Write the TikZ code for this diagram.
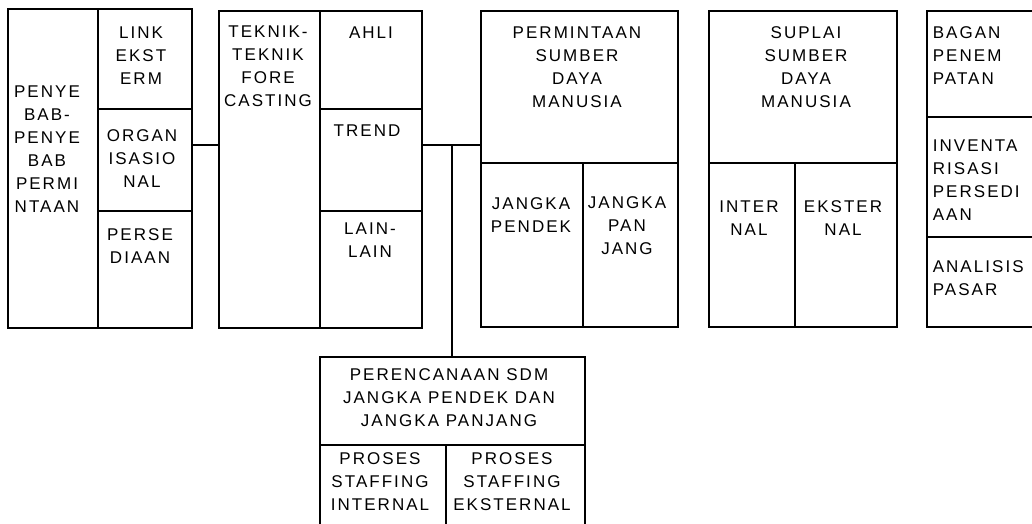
\documentclass[tikz,border=0pt]{standalone}
\usepackage{fontspec}
\setmainfont{Liberation Sans}[LetterSpace=12]
\begin{document}
\begin{tikzpicture}[x=1pt,y=-1pt,line width=1.6pt,
	cell/.style 2 args={draw,rectangle,inner sep=0pt,outer sep=0pt,minimum width=#1,minimum height=#2},
	txt/.style={inner sep=0pt,align=center,font=\fontsize{17}{23}\selectfont},
	ltxt/.style={txt,align=left,anchor=west}]
	\useasboundingbox (0,0) rectangle (1032,524);
	\clip (0,0) rectangle (1032,524);
	% penyebab permintaan
	\node[cell={90}{319}] (cause) at (53,168.5) {};
	\node[cell={94}{100}] (link) at (145,59) {};
	\node[cell={94}{102}] (org) at (145,160) {};
	\node[cell={94}{117}] (stock) at (145,269.5) {};
	\node[txt] (causet) at (47,149) {PENYE\\BAB-\\PENYE\\BAB\\PERMI\\NTAAN};
	\node[txt] (linkt) at (141,56) {LINK\\EKST\\ERM};
	\node[txt] (orgt) at (142,159) {ORGAN\\ISASIO\\NAL};
	\node[txt] (stockt) at (140,246) {PERSE\\DIAAN};
	% teknik forecasting
	\node[cell={101}{317}] (tech) at (269.5,169.5) {};
	\node[cell={102}{98}] (expert) at (371,60) {};
	\node[cell={102}{102}] (trend) at (371,160) {};
	\node[cell={102}{117}] (other) at (371,269.5) {};
	\node[txt] (techt) at (268,66) {TEKNIK-\\TEKNIK\\FORE\\CASTING};
	\node[txt] (expertt) at (371,33) {AHLI};
	\node[txt] (trendt) at (367,131) {TREND};
	\node[txt] (othert) at (370,240) {LAIN-\\LAIN};
	% permintaan sdm
	\node[cell={197}{152}] (demand) at (579.5,87) {};
	\node[cell={102}{164}] (short) at (532,245) {};
	\node[cell={95}{164}] (long) at (630.5,245) {};
	\node[txt] (demandt) at (577,67) {PERMINTAAN\\SUMBER\\DAYA\\MANUSIA};
	\node[txt] (shortt) at (531,215) {JANGKA\\PENDEK};
	\node[txt] (longt) at (627,226) {JANGKA\\PAN\\JANG};
	% suplai sdm
	\node[cell={188}{152}] (supply) at (803,87) {};
	\node[cell={86}{164}] (intern) at (752,245) {};
	\node[cell={102}{164}] (extern) at (846,245) {};
	\node[txt] (supplyt) at (806,67) {SUPLAI\\SUMBER\\DAYA\\MANUSIA};
	\node[txt] (internt) at (749,218.5) {INTER\\NAL};
	\node[txt] (externt) at (843,218.5) {EKSTER\\NAL};
	% bagan dsb
	\node[cell={173}{106}] (chart) at (1013.5,64) {};
	\node[cell={173}{120}] (invent) at (1013.5,177) {};
	\node[cell={173}{90}] (market) at (1013.5,282) {};
	\node[ltxt] (chartt) at (932,55.5) {BAGAN\\PENEM\\PATAN};
	\node[ltxt] (inventt) at (932,180) {INVENTA\\RISASI\\PERSEDI\\AAN};
	\node[ltxt] (markett) at (932,278.5) {ANALISIS\\PASAR};
	% perencanaan
	\node[cell={265}{88}] (plan) at (452.5,401) {};
	\node[cell={126}{115}] (stin) at (383,502.5) {};
	\node[cell={139}{115}] (stex) at (515.5,502.5) {};
	\node[txt] (plant) at (449,397.5) {PERENCANAAN SDM\\JANGKA PENDEK DAN\\JANGKA PANJANG};
	\node[txt] (stint) at (380,482) {PROSES\\STAFFING\\INTERNAL};
	\node[txt] (stext) at (512,482) {PROSES\\STAFFING\\EKSTERNAL};
	% garis
	\coordinate (fork) at (452,145);
	\draw (org.east |- fork) -- (tech.west |- fork);
	\draw (trend.east |- fork) -- (demand.west |- fork);
	\draw (fork) -- (plan.north -| fork);
\end{tikzpicture}
\end{document}
